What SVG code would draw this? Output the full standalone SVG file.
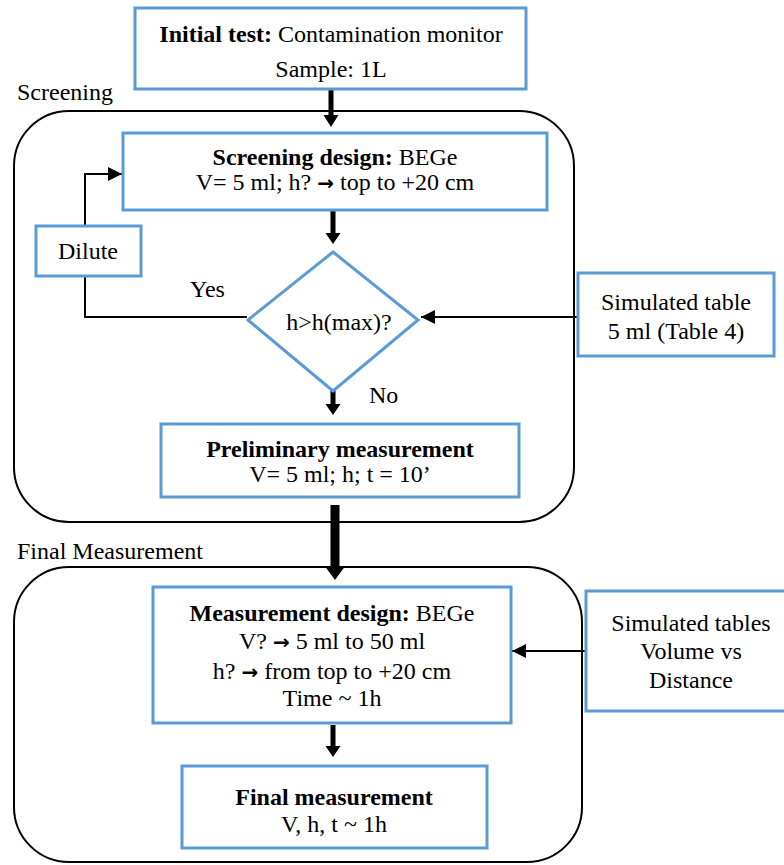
<svg xmlns="http://www.w3.org/2000/svg" width="784" height="865" viewBox="0 0 784 865">
<defs>
<style>
.box{fill:#fff;stroke:#5b9bd5;stroke-width:3}
.cont{fill:none;stroke:#000;stroke-width:2}
.t{font-family:"Liberation Serif","Times New Roman",serif;font-size:24px;fill:#000}
.c{text-anchor:middle}
.b{font-weight:bold}
.ar{font-family:"DejaVu Sans",sans-serif;font-weight:bold;font-size:20px}
.ln{fill:none;stroke:#000;stroke-width:2}
.ah{fill:#000}
</style>
<marker id="tri" viewBox="0 0 10 10" refX="10" refY="5" markerWidth="14" markerHeight="14" markerUnits="userSpaceOnUse" orient="auto">
<path d="M0,0 L10,5 L0,10 Z" fill="#000"/>
</marker>
</defs>
<rect width="784" height="865" fill="#fff"/>

<g id="screening-container">
<rect class="cont" x="14" y="111" width="560" height="411" rx="55" ry="55"/>
<text class="t" x="17" y="100">Screening</text>
</g>
<g id="final-container">
<rect class="cont" x="14" y="567" width="568" height="295" rx="55" ry="55"/>
<text class="t" x="17" y="559">Final Measurement</text>
</g>

<g id="connectors">
<path class="ah" d="M328.5,89 h5 v26 h5 l-7.5,12 l-7.5,-12 h5 z"/>
<path class="ah" d="M330.5,211 h5 v22 h5 l-7.5,11 l-7.5,-11 h5 z"/>
<path class="ah" d="M330.5,380 h5 v24 h5 l-7.5,11 l-7.5,-11 h5 z"/>
<path class="ah" d="M330.5,505 h9 v62 h5 l-9.5,13 l-9.5,-13 h5 z"/>
<path class="ah" d="M330.5,725 h5 v21 h5 l-7.5,11 l-7.5,-11 h5 z"/>
<path class="ln" d="M247,317 H85 V277"/>
<path class="ln" d="M85,225 V174 H122" marker-end="url(#tri)"/>
<path class="ln" d="M578,317 H421" marker-end="url(#tri)"/>
<path class="ln" d="M586,651 H512" marker-end="url(#tri)"/>
<text class="t" x="190" y="297">Yes</text>
<text class="t" x="369" y="403">No</text>
</g>

<g id="initial-test">
<rect class="box" x="135" y="8" width="391" height="81"/>
<text class="t c" x="331" y="42"><tspan class="b">Initial test:</tspan> Contamination monitor</text>
<text class="t c" x="331" y="77">Sample: 1L</text>
</g>

<g id="screening-design">
<rect class="box" x="123" y="133" width="424" height="77"/>
<text class="t c" x="335" y="165"><tspan class="b">Screening design:</tspan> BEGe</text>
<text class="t c" x="335" y="190">V= 5 ml; h? <tspan class="ar">→</tspan> top to +20 cm</text>
</g>

<g id="dilute">
<rect class="box" x="36" y="226" width="105" height="50"/>
<text class="t c" x="88" y="259">Dilute</text>
</g>

<g id="decision">
<polygon class="box" points="333,252 418,320 333,391 248,320"/>
<text class="t c" x="339" y="330">h&gt;h(max)?</text>
</g>

<g id="simulated-table">
<rect class="box" x="578" y="273" width="196" height="83"/>
<text class="t c" x="676" y="310">Simulated table</text>
<text class="t c" x="676" y="339">5 ml (Table 4)</text>
</g>

<g id="preliminary">
<rect class="box" x="161" y="424" width="358" height="73"/>
<text class="t c" x="340" y="457"><tspan class="b">Preliminary measurement</tspan></text>
<text class="t c" x="340" y="482">V= 5 ml; h; t = 10’</text>
</g>

<g id="measurement-design">
<rect class="box" x="153" y="587" width="358" height="136"/>
<text class="t c" x="332" y="621"><tspan class="b">Measurement design:</tspan> BEGe</text>
<text class="t c" x="332" y="649">V? <tspan class="ar">→</tspan> 5 ml to 50 ml</text>
<text class="t c" x="332" y="679">h? <tspan class="ar">→</tspan> from top to +20 cm</text>
<text class="t c" x="332" y="706">Time ~ 1h</text>
</g>

<g id="simulated-tables">
<rect class="box" x="586" y="591" width="200" height="120"/>
<text class="t c" x="691" y="631">Simulated tables</text>
<text class="t c" x="691" y="659">Volume vs</text>
<text class="t c" x="691" y="688">Distance</text>
</g>

<g id="final-measurement">
<rect class="box" x="182" y="766" width="305" height="82"/>
<text class="t c" x="334" y="805"><tspan class="b">Final measurement</tspan></text>
<text class="t c" x="334" y="832">V, h, t ~ 1h</text>
</g>
</svg>
